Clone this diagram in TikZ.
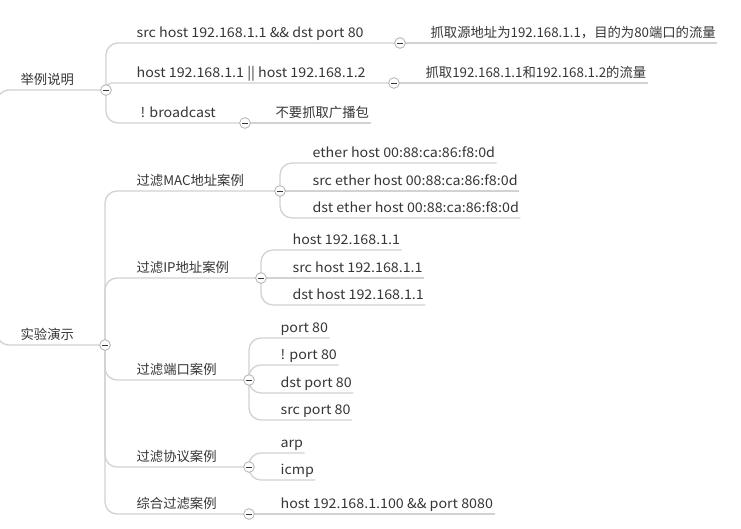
\documentclass[tikz,border=0pt]{standalone}
\usepackage{fontspec}
\setmainfont{Noto Sans CJK SC}
\newfontfamily\lat{Noto Sans CJK SC}[FakeStretch=1.07]
\definecolor{txt}{HTML}{363636}
\definecolor{ln}{HTML}{D2D2D2}
\definecolor{rim}{HTML}{B0B0B0}
\pgfdeclarelayer{back}
\pgfsetlayers{back,main}
\begin{document}
\begin{tikzpicture}[x=0.75pt,y=-0.75pt,
    topic/.style={anchor=south west,inner xsep=1pt,inner ysep=0pt,text depth=3.75pt,text=txt,font=\fontsize{10}{12}\selectfont},
    cmd/.style={topic,font=\lat\fontsize{10}{12}\selectfont},
    link/.style={draw=ln,line width=1pt,rounded corners=9pt},
    fold/.style={circle,draw=rim,fill=white,line width=0.6pt,inner sep=0pt,minimum size=8pt,
      path picture={\draw[txt,line width=0.6pt] ([xshift=-2pt]path picture bounding box.center) -- ([xshift=2pt]path picture bounding box.center);}}]
    \useasboundingbox (0,0) rectangle (741,528);

    \node[topic] (r1) at (19,90) {举例说明};
    \node[fold] (c1) at (106,90) {};
    \node[cmd] (a1) at (135,43) {src host 192.168.1.1 \&\& dst port 80};
    \node[fold] (ca1) at (400,43) {};
    \node[topic] (a1x) at (429,43) {抓取源地址为192.168.1.1，目的为80端口的流量};
    \node[cmd] (a2) at (135,83) {host 192.168.1.1 || host 192.168.1.2};
    \node[fold] (ca2) at (394,83) {};
    \node[topic] (a2x) at (424,83) {抓取192.168.1.1和192.168.1.2的流量};
    \node[cmd] (a3) at (139,123) {! broadcast};
    \node[fold] (ca3) at (245,123) {};
    \node[topic] (a3x) at (274,123) {不要抓取广播包};

    \node[topic] (r2) at (19,345) {实验演示};
    \node[fold] (c2) at (105,345) {};
    \node[topic] (b1) at (135,191) {过滤MAC地址案例};
    \node[fold] (cb1) at (280,191) {};
    \node[cmd] (m1) at (311,163) {ether host 00:88:ca:86:f8:0d};
    \node[cmd] (m2) at (311,191) {src ether host 00:88:ca:86:f8:0d};
    \node[cmd] (m3) at (311,218) {dst ether host 00:88:ca:86:f8:0d};
    \node[topic] (b2) at (135,278) {过滤IP地址案例};
    \node[fold] (cb2) at (261,278) {};
    \node[cmd] (i1) at (291,250) {host 192.168.1.1};
    \node[cmd] (i2) at (291,278) {src host 192.168.1.1};
    \node[cmd] (i3) at (291,305) {dst host 192.168.1.1};
    \node[topic] (b3) at (135,380) {过滤端口案例};
    \node[fold] (cb3) at (249,380) {};
    \node[cmd] (p1) at (279,338) {port 80};
    \node[cmd] (p2) at (279,365) {! port 80};
    \node[cmd] (p3) at (279,393) {dst port 80};
    \node[cmd] (p4) at (279,420) {src port 80};
    \node[topic] (b4) at (135,467) {过滤协议案例};
    \node[fold] (cb4) at (249,467) {};
    \node[cmd] (t1) at (279,453) {arp};
    \node[cmd] (t2) at (279,480) {icmp};
    \node[topic] (b5) at (135,514) {综合过滤案例};
    \node[fold] (cb5) at (249,514) {};
    \node[cmd] (s1) at (279,514) {host 192.168.1.100 \&\& port 8080};

    \begin{pgfonlayer}{back}
    \fill[white] (0,0) rectangle (741,528);
    \coordinate (hub) at (-3,217);
    \draw[link] (hub) |- (r1.south west) -- (c1.center);
    \draw[link] (hub) |- (r2.south west) -- (c2.center);
    \foreach \p/\t/\q in {c1/a1/ca1,c1/a3/ca3,c2/b1/cb1,c2/b2/cb2,c2/b3/cb3,c2/b4/cb4,c2/b5/cb5}
      \draw[link] (\p.center) |- (\t.south west) -- (\q.center);
    \draw[link,rounded corners=4pt] (c1.center) |- (a2.south west) -- (ca2.center);
    \foreach \p/\t in {ca1/a1x,ca2/a2x,ca3/a3x,cb1/m2,cb2/i2,cb5/s1}
      \draw[link] (\p.center) -- (\t.south west) -- (\t.south east);
    \foreach \p/\t in {cb1/m1,cb1/m3,cb2/i1,cb2/i3,cb3/p1,cb3/p2,cb3/p3,cb3/p4,cb4/t1,cb4/t2}
      \draw[link] (\p.center) |- (\t.south west) -- (\t.south east);
    \end{pgfonlayer}
\end{tikzpicture}
\end{document}
